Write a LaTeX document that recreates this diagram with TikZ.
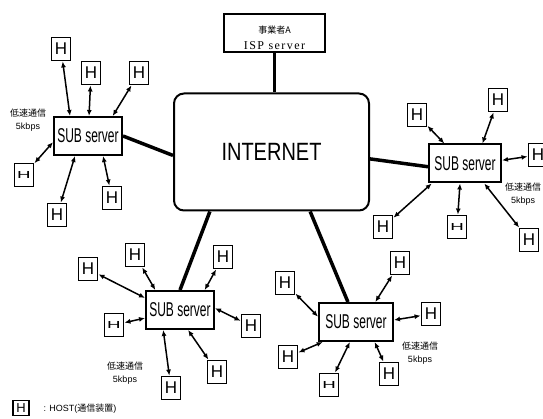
\documentclass[tikz,border=0pt]{standalone}
\usepackage{fontspec}
\usepackage{graphicx}
\setmainfont{Liberation Sans}
\newfontfamily\cjk{Noto Sans CJK JP}
\newfontfamily\subfont[FakeStretch=0.6]{Liberation Sans}
\newfontfamily\netfont[FakeStretch=0.8]{Liberation Sans}
\newfontfamily\ispfont[LetterSpace=12]{Liberation Serif}
\usetikzlibrary{arrows.meta, calc}
\newcommand{\hlow}{\scalebox{1.1}[0.6]{H}}
\tikzset{
  subsrv/.style={rectangle, draw, line width=2pt, minimum width=68pt,
    minimum height=38pt, inner sep=0pt, font=\subfont\fontsize{20}{20}\selectfont},
  host/.style={rectangle, draw, line width=1.9pt, minimum width=19pt,
    minimum height=23pt, inner sep=0pt, font=\fontsize{17}{17}\selectfont},
  inetbox/.style={rectangle, draw, line width=2pt, rounded corners=10pt,
    minimum width=195pt, minimum height=117pt, font=\netfont\fontsize{25}{25}\selectfont},
  ispbox/.style={rectangle, draw, line width=1.5pt, minimum width=101pt,
    minimum height=38pt, inner sep=0pt},
  link/.style={line width=3.5pt},
  dblarrow/.style={{Latex[length=6pt,width=5pt]}-{Latex[length=6pt,width=5pt]}, line width=1.5pt},
  slow/.style={align=center, font=\fontsize{9}{13}\selectfont}
}

\begin{document}
\begin{tikzpicture}[x=1pt, y=-1pt]
  \useasboundingbox (0,0) rectangle (543,419);

  % ISP server and internet
  \node[ispbox] (isp) at (274.5,33) {};
  \node[align=center, inner sep=0pt] (ispname) at (274.5,38) {{\cjk\fontsize{9}{9}\selectfont 事業者A}\\[4pt]{\ispfont\fontsize{12}{12}\selectfont ISP server}};
  \node[inetbox] (inet) at (271.5,152) {INTERNET};
  \draw[line width=3pt] (isp.south) -- (isp.south |- inet.north);

  % SUB servers
  \node[subsrv] (s1) at (88,136) {SUB server};
  \node[subsrv, minimum width=72pt] (s2) at (465,163.5) {SUB server};
  \node[subsrv] (s3) at (180,310) {SUB server};
  \node[subsrv, minimum width=74pt] (s4) at (356,322) {SUB server};
  \draw[link] (s1.east) -- (inet.182);
  \draw[link] (inet.356) -- (s2.185);
  \draw[link] (inet.224.5) -- (s3.north);
  \draw[link] (inet.303) -- (s4.112);

  % hosts, upper left
  \node[host] (h1a) at (61,49) {H};
  \node[host] (h1b) at (91,73) {H};
  \node[host] (h1c) at (139,73) {H};
  \node[host] (h1d) at (24,175) {\hlow};
  \node[host] (h1e) at (57,215) {H};
  \node[host] (h1f) at (112,198) {H};
  \draw[dblarrow] (h1a) -- (s1.132);
  \draw[dblarrow] (h1b) -- (s1.87);
  \draw[dblarrow] (h1c) -- (s1.39);
  \draw[dblarrow] (h1d) -- (s1.190);
  \draw[dblarrow] (h1e) -- (s1.237);
  \draw[dblarrow] (h1f) -- (s1.307);
  \node[slow] (r1) at (28,120) {{\cjk 低速通信}\\5kbps};

  % hosts, right
  \node[host] (h2a) at (417,115) {H};
  \node[host] (h2b) at (498,100) {H};
  \node[host] (h2c) at (538,155) {H};
  \node[host] (h2d) at (383,227) {H};
  \node[host] (h2e) at (457,227) {\hlow};
  \node[host] (h2f) at (529,240) {H};
  \draw[dblarrow] (h2a) -- (s2.136);
  \draw[dblarrow] (h2b) -- (s2.49);
  \draw[dblarrow] (h2c) -- (s2.5);
  \draw[dblarrow] (h2d) -- (s2.211);
  \draw[dblarrow] (h2e) -- (s2.256);
  \draw[dblarrow] (h2f) -- (s2.314);
  \node[slow] (r2) at (523,194) {{\cjk 低速通信}\\5kbps};

  % hosts, lower left
  \node[host] (h3a) at (88,269) {H};
  \node[host] (h3b) at (135,255) {H};
  \node[host] (h3c) at (223,257) {H};
  \node[host] (h3d) at (114,325) {\hlow};
  \node[host] (h3e) at (251,326) {H};
  \node[host] (h3f) at (217,372) {H};
  \node[host] (h3g) at (171,388) {H};
  \draw[dblarrow] (h3a) -- (s3.161);
  \draw[dblarrow] (h3b) -- (s3.141);
  \draw[dblarrow] (h3c) -- (s3.39);
  \draw[dblarrow] (h3d) -- (s3.193);
  \draw[dblarrow] (h3e) -- (s3.3);
  \draw[dblarrow] (h3f) -- (s3.292);
  \draw[dblarrow] (h3g) -- (s3.230);
  \node[slow] (r3) at (125,373) {{\cjk 低速通信}\\5kbps};

  % hosts, lower right
  \node[host] (h4a) at (285,283) {H};
  \node[host] (h4b) at (400,263) {H};
  \node[host] (h4c) at (431,314) {H};
  \node[host] (h4d) at (288,357) {H};
  \node[host] (h4e) at (329,385) {\hlow};
  \node[host] (h4f) at (389,374) {H};
  \draw[dblarrow] (h4a) -- (s4.172);
  \draw[dblarrow] (h4b) -- (s4.46);
  \draw[dblarrow] (h4c) -- (s4.3);
  \draw[dblarrow] (h4d) -- (s4.211);
  \draw[dblarrow] (h4e) -- (s4.253);
  \draw[dblarrow] (h4f) -- (s4.313);
  \node[slow] (r4) at (420,353) {{\cjk 低速通信}\\5kbps};

  % legend
  \node[host, minimum width=16pt, minimum height=15pt, font=\fontsize{13}{13}\selectfont] (key) at (21,408) {H};
  \node[anchor=west, font=\fontsize{9}{9}\selectfont] (keytxt) at (40,409) {: HOST({\cjk 通信装置})};
\end{tikzpicture}
\end{document}
